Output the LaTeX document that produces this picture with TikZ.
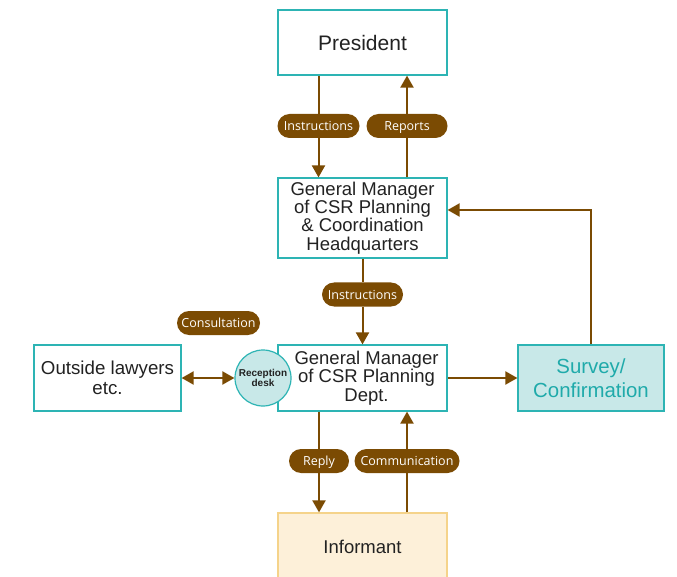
\documentclass[tikz,border=0pt]{standalone}
\usepackage{fontspec}
\setmainfont{Liberation Sans}
\newfontfamily\pillfont{Open Sans}
\usetikzlibrary{arrows.meta}
\definecolor{brn}{HTML}{7B4B03}
\definecolor{tl}{HTML}{2DB4B4}
\definecolor{tlfill}{HTML}{C8E8E8}
\definecolor{tltext}{HTML}{1FAAAA}
\definecolor{txt}{HTML}{222222}
\definecolor{infill}{HTML}{FDF0D9}
\definecolor{inborder}{HTML}{F5D38A}
\begin{document}
\begin{tikzpicture}[x=1pt,y=-1pt,
  box/.style={draw=tl,line width=1.2pt,fill=white,minimum width=169pt,minimum height=66pt,align=center,text=txt,inner sep=0pt,font=\fontsize{18.5}{18.4}\selectfont},
  pill/.style={fill=brn,text=white,rounded corners=12pt,minimum height=24pt,inner sep=0pt,text height=11pt,text depth=1.5pt,font=\pillfont\fontsize{12.5}{14}\selectfont},
  arr/.style={draw=brn,line width=2pt,-{Triangle[length=12pt,width=13pt]}},
  darr/.style={draw=brn,line width=2pt,{Triangle[length=12pt,width=13pt]}-{Triangle[length=12pt,width=13pt]}},
  ln/.style={draw=brn,line width=2pt}]
\useasboundingbox (0,0) rectangle (677,577);
\begin{scope}
\clip (0,0) rectangle (677,577);
\node[box,font=\fontsize{21}{22}\selectfont,minimum height=65pt] (pres) at (362.5,42.5) {President};
\node[box,minimum height=80pt] (hq) at (362.5,218) {General Manager\\of CSR Planning\\\& Coordination\\Headquarters};
\node[box] (dept) at (362.5,378) {\hspace*{8pt}General Manager\\\hspace*{8pt}of CSR Planning\\\hspace*{8pt}Dept.};
\node[box,draw=inborder,fill=infill,minimum height=67pt,font=\fontsize{18.5}{20}\selectfont] (inf) at (362.5,546.5) {Informant};
\node[box,minimum width=147pt,font=\fontsize{18.7}{20}\selectfont] (law) at (107.5,378) {Outside lawyers\\etc.};
\node[box,fill=tlfill,text=tltext,minimum width=146pt,font=\fontsize{20.4}{24}\selectfont] (surv) at (591,378) {Survey/\\Confirmation};
\node[circle,draw=tl,line width=1.2pt,fill=tlfill,minimum size=56pt,inner sep=0pt,align=center,text=txt,font=\bfseries\fontsize{10}{10}\selectfont] (rec) at (263,378) {Reception\\desk};
\node[pill,minimum width=82pt] (p1) at (318.5,126) {Instructions};
\node[pill,minimum width=81pt] (p2) at (407,126) {Reports};
\node[pill,minimum width=81pt] (p3) at (362.5,294.5) {Instructions};
\node[pill,minimum width=83pt] (p4) at (218.5,323) {Consultation};
\node[pill,minimum width=60pt] (p5) at (319,461) {Reply};
\node[pill,minimum width=105pt] (p6) at (407,461) {Communication};
\draw[ln] (pres.south -| p1) -- (p1.north);
\draw[arr] (p1.south) -- (hq.north -| p1);
\draw[ln] (hq.north -| p2) -- (p2.south);
\draw[arr] (p2.north) -- (pres.south -| p2);
\draw[ln] (hq.south -| p3) -- (p3.north);
\draw[arr] (p3.south) -- (dept.north -| p3);
\draw[ln] (dept.south -| p5) -- (p5.north);
\draw[arr] (p5.south) -- (inf.north -| p5);
\draw[ln] (inf.north -| p6) -- (p6.south);
\draw[arr] (p6.north) -- (dept.south -| p6);
\draw[darr] (law.east) -- (rec.west);
\draw[arr] (dept.east) -- (surv.west);
\draw[arr] (surv.north) |- ([yshift=8pt]hq.east);
\end{scope}
\end{tikzpicture}
\end{document}
